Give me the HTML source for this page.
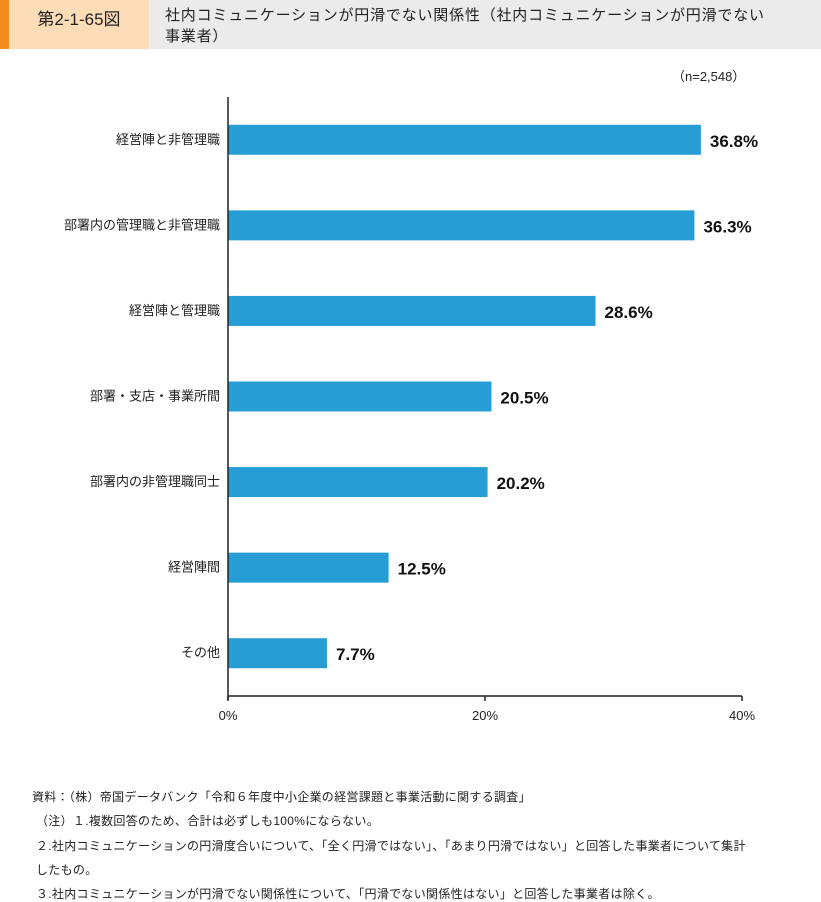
<!DOCTYPE html>
<html><head><meta charset="utf-8"><style>
body{margin:0;width:821px;height:901px;background:#fff;font-family:"Liberation Sans","Noto Sans CJK JP",sans-serif;position:relative;overflow:hidden;color:#222}
.a{position:absolute}
.note{position:absolute;left:32px;font-size:12px;color:#222;white-space:nowrap;letter-spacing:0.3px}
</style></head><body>
<div class="a" style="left:0;top:0;width:9px;height:49px;background:#f28c1e"></div>
<div class="a" style="left:9px;top:0;width:140px;height:49px;background:#fddcb8;font-size:17px;line-height:40px;text-align:center;box-sizing:border-box">第2-1-65図</div>
<div class="a" style="left:149px;top:0;width:672px;height:49px;background:#ebebeb;font-size:15px;line-height:21px;padding:5px 0 0 16px;box-sizing:border-box;letter-spacing:0.8px">社内コミュニケーションが円滑でない関係性（社内コミュニケーションが円滑でない<br>事業者）</div>
<div class="a" style="left:672px;top:66px;font-size:13px">（n=2,548）</div>
<svg class="a" style="left:0;top:0" width="821" height="760" id="chart"></svg>
<div class="note" style="top:788px">資料：（株）帝国データバンク「令和６年度中小企業の経営課題と事業活動に関する調査」</div>
<div class="note" style="top:812px;left:36px">（注）１.複数回答のため、合計は必ずしも100%にならない。</div>
<div class="note" style="top:837px;left:36px">２.社内コミュニケーションの円滑度合いについて、「全く円滑ではない」、「あまり円滑ではない」と回答した事業者について集計</div>
<div class="note" style="top:861px;left:36px">したもの。</div>
<div class="note" style="top:885px;left:36px">３.社内コミュニケーションが円滑でない関係性について、「円滑でない関係性はない」と回答した事業者は除く。</div>
<script>
const categories=["経営陣と非管理職","部署内の管理職と非管理職","経営陣と管理職","部署・支店・事業所間","部署内の非管理職同士","経営陣間","その他"];
const values=[36.8,36.3,28.6,20.5,20.2,12.5,7.7];
const ticks=[0,20,40];
const NS="http://www.w3.org/2000/svg";
const svg=document.getElementById('chart');
const x0=228,x1=742,yTop=97,yAx=696,vmax=40;
const xs=v=>x0+(x1-x0)*v/vmax;
const band=(yAx-yTop)/categories.length;
const yc=i=>yTop+band*(i+0.5);
function mk(t,a){const e=document.createElementNS(NS,t);for(const k in a)e.setAttribute(k,a[k]);svg.appendChild(e);return e;}
categories.forEach((c,i)=>{
 const r=mk('rect',{x:x0,y:yc(i)-15,width:xs(values[i])-x0,height:30,fill:'#279dd6'});
 
 
 const l=mk('text',{x:x0-8,y:yc(i)+4,'text-anchor':'end','font-size':13,fill:'#222'});
 l.textContent=c;
 
 
 const v=mk('text',{x:xs(values[i])+9,y:yc(i)+7,'font-size':17,'font-weight':'bold',fill:'#111'});
 v.textContent=values[i].toFixed(1)+'%';
 
 
});
const ya=mk('line',{x1:x0,y1:yTop,x2:x0,y2:yAx+4,stroke:'#222','stroke-width':1.5});


const xa=mk('line',{x1:x0,y1:yAx,x2:x1,y2:yAx,stroke:'#222','stroke-width':1.5});


ticks.forEach(t=>{
 const tk=mk('line',{x1:xs(t),y1:yAx,x2:xs(t),y2:yAx+5,stroke:'#222','stroke-width':1.5});
 
 
 const tl=mk('text',{x:xs(t),y:yAx+24,'text-anchor':'middle','font-size':13,fill:'#222'});
 tl.textContent=t+'%';
 
 
});
</script>
</body></html>
